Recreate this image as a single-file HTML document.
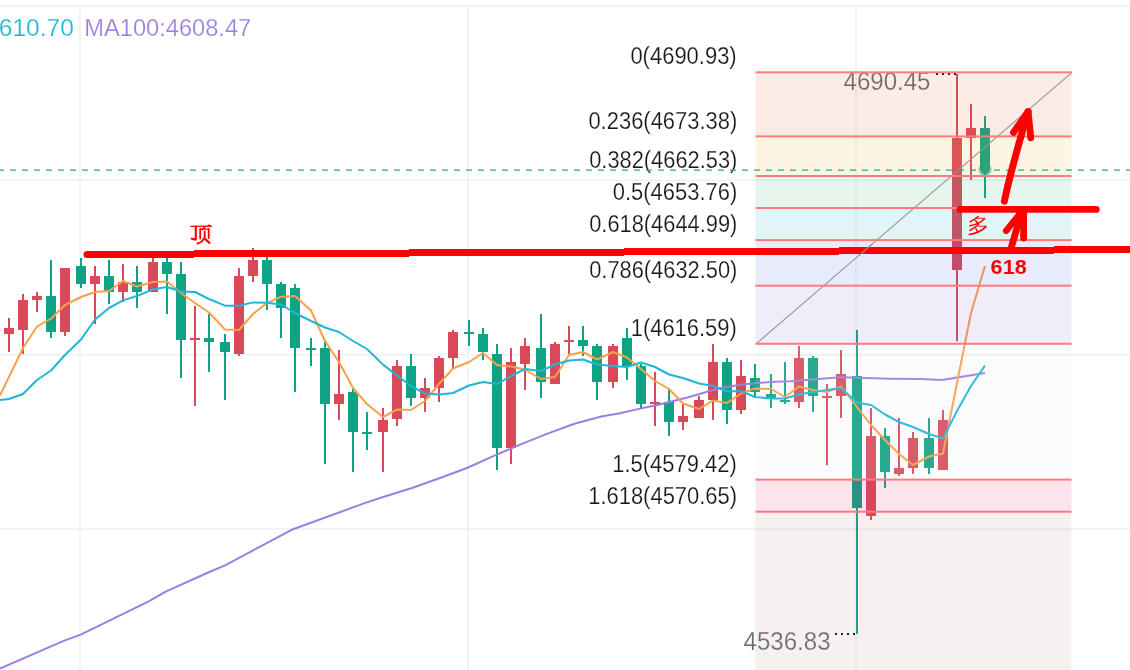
<!DOCTYPE html><html><head><meta charset="utf-8"><style>html,body{margin:0;padding:0;background:#fff;overflow:hidden;width:1130px;height:670px}svg{display:block;will-change:transform}</style></head><body>
<svg width="1130" height="670" viewBox="0 0 1130 670">
<rect x="0" y="5.25" width="1130" height="1.5" fill="#eef0f4"/>
<rect x="0" y="179.55" width="1130" height="1.5" fill="#eef0f4"/>
<rect x="0" y="353.95" width="1130" height="1.5" fill="#eef0f4"/>
<rect x="0" y="528.25" width="1130" height="1.5" fill="#eef0f4"/>
<rect x="79.25" y="6" width="1.5" height="664" fill="#eef0f4"/>
<rect x="467.25" y="6" width="1.5" height="664" fill="#eef0f4"/>
<rect x="855.25" y="6" width="1.5" height="664" fill="#eef0f4"/>
<rect x="8.0" y="318" width="2" height="34" fill="#d84a5a"/>
<rect x="4.0" y="328" width="10" height="6" fill="#d84a5a"/>
<rect x="22.0" y="294" width="2" height="60" fill="#d84a5a"/>
<rect x="18.0" y="300" width="10" height="30" fill="#d84a5a"/>
<rect x="36.0" y="292" width="2" height="20" fill="#d84a5a"/>
<rect x="32.0" y="296" width="10" height="4" fill="#d84a5a"/>
<rect x="50.0" y="260" width="2" height="78" fill="#0fa386"/>
<rect x="46.0" y="296" width="10" height="36" fill="#0fa386"/>
<rect x="64.0" y="268" width="2" height="68" fill="#d84a5a"/>
<rect x="60.0" y="268" width="10" height="64" fill="#d84a5a"/>
<rect x="80.0" y="258" width="2" height="30" fill="#0fa386"/>
<rect x="76.0" y="266" width="10" height="18" fill="#0fa386"/>
<rect x="94.0" y="266" width="2" height="58" fill="#d84a5a"/>
<rect x="90.0" y="276" width="10" height="8" fill="#d84a5a"/>
<rect x="108.0" y="260" width="2" height="44" fill="#0fa386"/>
<rect x="104.0" y="276" width="10" height="16" fill="#0fa386"/>
<rect x="122.0" y="264" width="2" height="38" fill="#d84a5a"/>
<rect x="118.0" y="282" width="10" height="10" fill="#d84a5a"/>
<rect x="136.0" y="266" width="2" height="42" fill="#0fa386"/>
<rect x="132.0" y="282" width="10" height="10" fill="#0fa386"/>
<rect x="152.0" y="257" width="2" height="35" fill="#d84a5a"/>
<rect x="148.0" y="262" width="10" height="30" fill="#d84a5a"/>
<rect x="166.0" y="257" width="2" height="57" fill="#0fa386"/>
<rect x="162.0" y="262" width="10" height="12" fill="#0fa386"/>
<rect x="180.0" y="262" width="2" height="116" fill="#0fa386"/>
<rect x="176.0" y="274" width="10" height="66" fill="#0fa386"/>
<rect x="194.0" y="306" width="2" height="100" fill="#d84a5a"/>
<rect x="190.0" y="338" width="10" height="2" fill="#d84a5a"/>
<rect x="208.0" y="314" width="2" height="58" fill="#0fa386"/>
<rect x="204.0" y="338" width="10" height="4" fill="#0fa386"/>
<rect x="224.0" y="334" width="2" height="66" fill="#0fa386"/>
<rect x="220.0" y="342" width="10" height="10" fill="#0fa386"/>
<rect x="238.0" y="268" width="2" height="88" fill="#d84a5a"/>
<rect x="234.0" y="276" width="10" height="78" fill="#d84a5a"/>
<rect x="252.0" y="248" width="2" height="34" fill="#d84a5a"/>
<rect x="248.0" y="260" width="10" height="16" fill="#d84a5a"/>
<rect x="266.0" y="257" width="2" height="53" fill="#0fa386"/>
<rect x="262.0" y="260" width="10" height="24" fill="#0fa386"/>
<rect x="280.0" y="282" width="2" height="56" fill="#0fa386"/>
<rect x="276.0" y="284" width="10" height="24" fill="#0fa386"/>
<rect x="294.0" y="284" width="2" height="108" fill="#0fa386"/>
<rect x="290.0" y="288" width="10" height="60" fill="#0fa386"/>
<rect x="310.0" y="338" width="2" height="28" fill="#0fa386"/>
<rect x="306.0" y="348" width="10" height="2" fill="#0fa386"/>
<rect x="324.0" y="340" width="2" height="124" fill="#0fa386"/>
<rect x="320.0" y="348" width="10" height="56" fill="#0fa386"/>
<rect x="338.0" y="350" width="2" height="70" fill="#d84a5a"/>
<rect x="334.0" y="394" width="10" height="10" fill="#d84a5a"/>
<rect x="352.0" y="388" width="2" height="84" fill="#0fa386"/>
<rect x="348.0" y="392" width="10" height="40" fill="#0fa386"/>
<rect x="366.0" y="412" width="2" height="38" fill="#0fa386"/>
<rect x="362.0" y="432" width="10" height="2" fill="#0fa386"/>
<rect x="382.0" y="408" width="2" height="64" fill="#d84a5a"/>
<rect x="378.0" y="420" width="10" height="12" fill="#d84a5a"/>
<rect x="396.0" y="360" width="2" height="66" fill="#d84a5a"/>
<rect x="392.0" y="366" width="10" height="53" fill="#d84a5a"/>
<rect x="410.0" y="354" width="2" height="52" fill="#0fa386"/>
<rect x="406.0" y="366" width="10" height="32" fill="#0fa386"/>
<rect x="424.0" y="378" width="2" height="34" fill="#d84a5a"/>
<rect x="420.0" y="388" width="10" height="10" fill="#d84a5a"/>
<rect x="438.0" y="356" width="2" height="46" fill="#d84a5a"/>
<rect x="434.0" y="358" width="10" height="30" fill="#d84a5a"/>
<rect x="452.0" y="330" width="2" height="39" fill="#d84a5a"/>
<rect x="448.0" y="332" width="10" height="26" fill="#d84a5a"/>
<rect x="468.0" y="320" width="2" height="26" fill="#0fa386"/>
<rect x="464.0" y="332" width="10" height="2" fill="#0fa386"/>
<rect x="482.0" y="328" width="2" height="32" fill="#0fa386"/>
<rect x="478.0" y="334" width="10" height="18" fill="#0fa386"/>
<rect x="496.0" y="344" width="2" height="126" fill="#0fa386"/>
<rect x="492.0" y="354" width="10" height="94" fill="#0fa386"/>
<rect x="510.0" y="348" width="2" height="116" fill="#d84a5a"/>
<rect x="506.0" y="362" width="10" height="86" fill="#d84a5a"/>
<rect x="524.0" y="338" width="2" height="52" fill="#d84a5a"/>
<rect x="520.0" y="346" width="10" height="18" fill="#d84a5a"/>
<rect x="540.0" y="314" width="2" height="84" fill="#0fa386"/>
<rect x="536.0" y="348" width="10" height="34" fill="#0fa386"/>
<rect x="554.0" y="342" width="2" height="42" fill="#d84a5a"/>
<rect x="550.0" y="344" width="10" height="40" fill="#d84a5a"/>
<rect x="568.0" y="326" width="2" height="28" fill="#d84a5a"/>
<rect x="564.0" y="340" width="10" height="2" fill="#d84a5a"/>
<rect x="582.0" y="326" width="2" height="30" fill="#0fa386"/>
<rect x="578.0" y="340" width="10" height="6" fill="#0fa386"/>
<rect x="596.0" y="344" width="2" height="56" fill="#0fa386"/>
<rect x="592.0" y="346" width="10" height="36" fill="#0fa386"/>
<rect x="612.0" y="344" width="2" height="44" fill="#d84a5a"/>
<rect x="608.0" y="346" width="10" height="36" fill="#d84a5a"/>
<rect x="626.0" y="328" width="2" height="52" fill="#0fa386"/>
<rect x="622.0" y="338" width="10" height="28" fill="#0fa386"/>
<rect x="640.0" y="364" width="2" height="44" fill="#0fa386"/>
<rect x="636.0" y="366" width="10" height="38" fill="#0fa386"/>
<rect x="654.0" y="372" width="2" height="54" fill="#d84a5a"/>
<rect x="650.0" y="402" width="10" height="2" fill="#d84a5a"/>
<rect x="668.0" y="388" width="2" height="48" fill="#0fa386"/>
<rect x="664.0" y="402" width="10" height="20" fill="#0fa386"/>
<rect x="682.0" y="404" width="2" height="26" fill="#d84a5a"/>
<rect x="678.0" y="416" width="10" height="6" fill="#d84a5a"/>
<rect x="698.0" y="396" width="2" height="22" fill="#d84a5a"/>
<rect x="694.0" y="400" width="10" height="18" fill="#d84a5a"/>
<rect x="712.0" y="344" width="2" height="76" fill="#d84a5a"/>
<rect x="708.0" y="362" width="10" height="38" fill="#d84a5a"/>
<rect x="726.0" y="358" width="2" height="66" fill="#0fa386"/>
<rect x="722.0" y="362" width="10" height="48" fill="#0fa386"/>
<rect x="740.0" y="360" width="2" height="54" fill="#d84a5a"/>
<rect x="736.0" y="376" width="10" height="34" fill="#d84a5a"/>
<rect x="754.0" y="364" width="2" height="34" fill="#0fa386"/>
<rect x="750.0" y="378" width="10" height="14" fill="#0fa386"/>
<rect x="770.0" y="374" width="2" height="34" fill="#0fa386"/>
<rect x="766.0" y="394" width="10" height="5" fill="#0fa386"/>
<rect x="784.0" y="362" width="2" height="42" fill="#0fa386"/>
<rect x="780.0" y="400" width="10" height="2" fill="#0fa386"/>
<rect x="798.0" y="346" width="2" height="62" fill="#d84a5a"/>
<rect x="794.0" y="358" width="10" height="44" fill="#d84a5a"/>
<rect x="812.0" y="356" width="2" height="56" fill="#0fa386"/>
<rect x="808.0" y="358" width="10" height="38" fill="#0fa386"/>
<rect x="826.0" y="384" width="2" height="81" fill="#d84a5a"/>
<rect x="822.0" y="396" width="10" height="2" fill="#d84a5a"/>
<rect x="840.0" y="350" width="2" height="68" fill="#d84a5a"/>
<rect x="836.0" y="374" width="10" height="22" fill="#d84a5a"/>
<rect x="856.0" y="330" width="2" height="304" fill="#0fa386"/>
<rect x="852.0" y="376" width="10" height="132" fill="#0fa386"/>
<rect x="870.0" y="408" width="2" height="112" fill="#d84a5a"/>
<rect x="866.0" y="436" width="10" height="80" fill="#d84a5a"/>
<rect x="884.0" y="428" width="2" height="60" fill="#0fa386"/>
<rect x="880.0" y="436" width="10" height="36" fill="#0fa386"/>
<rect x="898.0" y="418" width="2" height="58" fill="#d84a5a"/>
<rect x="894.0" y="468" width="10" height="6" fill="#d84a5a"/>
<rect x="912.0" y="432" width="2" height="42" fill="#d84a5a"/>
<rect x="908.0" y="438" width="10" height="30" fill="#d84a5a"/>
<rect x="928.0" y="418" width="2" height="56" fill="#0fa386"/>
<rect x="924.0" y="438" width="10" height="30" fill="#0fa386"/>
<rect x="942.0" y="410" width="2" height="60" fill="#d84a5a"/>
<rect x="938.0" y="420" width="10" height="50" fill="#d84a5a"/>
<rect x="956.0" y="74" width="2" height="267" fill="#d84a5a"/>
<rect x="952.0" y="138" width="10" height="132" fill="#d84a5a"/>
<rect x="970.0" y="104" width="2" height="76" fill="#d84a5a"/>
<rect x="966.0" y="128" width="10" height="10" fill="#d84a5a"/>
<rect x="984.0" y="116" width="2" height="82" fill="#0fa386"/>
<rect x="980.0" y="128" width="10" height="42" fill="#0fa386"/>
<defs><radialGradient id="dg"><stop offset="0" stop-color="#0fa386" stop-opacity="1"/><stop offset="0.5" stop-color="#0fa386" stop-opacity="0.95"/><stop offset="1" stop-color="#0fa386" stop-opacity="0"/></radialGradient></defs>
<circle cx="985" cy="169.6" r="7.5" fill="url(#dg)"/>
<polyline points="0,668.5 63.7,640.9 80.7,634.6 148.7,601.4 165.7,591.7 208.2,572.5 225.1,565.3 293.1,529.2 365.3,502.9 382.3,497.3 412,488 440,478 466.9,468 493.8,455.9 520.6,444.4 547.5,433.6 574.4,423.7 601.3,416.5 620,413.2 640,408.6 656.4,405.2 688.3,397.2 717.5,388.7 741.4,384.4 770,382 790,381.2 840.7,377.2 890,378.7 920,379 942,380 985,373" fill="none" stroke="#9b7fe0" stroke-width="2" stroke-linejoin="round"/>
<polyline points="0,395.4 9,377 23,348 37,326.5 51,318.7 65,305 81,297 95,292 109,291 123,281 137,286.5 153,282 167,281.5 181,293 195,303 209,312.5 225,329.5 239,330 253,314 267,303 281,296.7 295,296 311,310.5 325,341 339,362 353,388 367,404 383,417 397,409.5 411,410 425,401 439,384 453,368.5 469,362 483,353 497,365 511,366.5 525,369.5 541,379 555,377 569,355 583,352 597,359.5 613,352 627,357.5 641,369 655,381 669,389 683,403.5 699,409 713,400.5 727,403 741,393.5 755,388.5 771,389 785,397 799,386.5 813,390 827,392 841,386.5 857,407 871,425 885,440 899,454 913,465 929,456.5 943,453.5 957,383 971,313 985,266" fill="none" stroke="#f9a04a" stroke-width="2" stroke-linejoin="round"/>
<polyline points="0,400 9,399 23,394 37,380 51,370.5 65,355 81,339.5 95,319.5 109,308 123,300.4 137,296 153,289.3 167,287 181,291.5 195,292 209,299 225,305.7 239,305.7 253,302.4 267,302.7 281,304.5 295,313 311,321 325,327.5 339,332 353,341 367,349 383,364.6 397,375.5 411,386 425,393.5 439,394.5 453,393 469,385.5 483,382 497,384 511,376 525,369 541,371 555,364.5 569,360.5 583,359.5 597,364.5 613,366 627,367 641,362.5 655,367 669,374.5 683,378 699,383.5 713,386 727,391.5 741,391 755,397 771,398.5 785,398.5 799,394.5 813,392 827,390 841,388 857,402.5 871,405 885,414.5 899,422 913,427 929,434 943,438.5 957,411 971,386 985,365.5" fill="none" stroke="#1db7da" stroke-width="2" stroke-linejoin="round"/>
<text x="843.56" y="89.9" font-family="Liberation Sans, sans-serif" font-size="25.0" font-weight="normal" textLength="86.89" lengthAdjust="spacingAndGlyphs" fill="#646977" stroke="#fff" stroke-width="0.25" stroke-opacity="0.8">4690.45</text>
<text x="743.56" y="649.8" font-family="Liberation Sans, sans-serif" font-size="25.0" font-weight="normal" textLength="86.97" lengthAdjust="spacingAndGlyphs" fill="#646977" stroke="#fff" stroke-width="0.25" stroke-opacity="0.8">4536.83</text>
<rect x="936" y="73" width="2" height="2" fill="#111"/>
<rect x="942" y="73" width="2" height="2" fill="#111"/>
<rect x="948" y="73" width="2" height="2" fill="#111"/>
<rect x="954" y="73" width="2" height="2" fill="#111"/>
<rect x="835" y="633" width="2" height="2" fill="#111"/>
<rect x="841" y="633" width="2" height="2" fill="#111"/>
<rect x="847" y="633" width="2" height="2" fill="#111"/>
<rect x="853" y="633" width="2" height="2" fill="#111"/>
<rect x="755.5" y="72.3" width="316.0" height="64.10000000000001" fill="rgb(238,88,47)" fill-opacity="0.12"/>
<rect x="755.5" y="136.4" width="316.0" height="39.599999999999994" fill="rgb(238,163,30)" fill-opacity="0.12"/>
<rect x="755.5" y="176.0" width="316.0" height="32.0" fill="rgb(47,180,113)" fill-opacity="0.12"/>
<rect x="755.5" y="208.0" width="316.0" height="32.099999999999994" fill="rgb(5,172,188)" fill-opacity="0.12"/>
<rect x="755.5" y="240.1" width="316.0" height="45.599999999999994" fill="rgb(55,88,222)" fill-opacity="0.12"/>
<rect x="755.5" y="285.7" width="316.0" height="58.10000000000002" fill="rgb(130,97,213)" fill-opacity="0.12"/>
<rect x="755.5" y="343.8" width="316.0" height="135.8" fill="rgb(222,222,222)" fill-opacity="0.12"/>
<rect x="755.5" y="479.6" width="316.0" height="32.099999999999966" fill="rgb(230,30,97)" fill-opacity="0.12"/>
<rect x="755.5" y="511.7" width="316.0" height="158.3" fill="rgb(180,130,130)" fill-opacity="0.12"/>
<line x1="756.1" y1="343.8" x2="1072.1" y2="72.3" stroke="#969696" stroke-width="1.05"/>
<rect x="755.5" y="71.3" width="316.0" height="2" fill="#ff7b7b"/>
<rect x="755.5" y="135.4" width="316.0" height="2" fill="#ff7b7b"/>
<rect x="755.5" y="175.0" width="316.0" height="2" fill="#ff7b7b"/>
<rect x="755.5" y="207.0" width="316.0" height="2" fill="#ff7b7b"/>
<rect x="755.5" y="239.1" width="316.0" height="2" fill="#ff7b7b"/>
<rect x="755.5" y="284.7" width="316.0" height="2" fill="#ff7b7b"/>
<rect x="755.5" y="342.8" width="316.0" height="2" fill="#ff7b7b"/>
<rect x="755.5" y="478.6" width="316.0" height="2" fill="#ff7b7b"/>
<rect x="755.5" y="510.7" width="316.0" height="2" fill="#ff7b7b"/>
<text x="-1.21" y="35.6" font-family="Liberation Sans, sans-serif" font-size="24.8" font-weight="normal" textLength="75.09" lengthAdjust="spacingAndGlyphs" fill="#1db7da" stroke="#fff" stroke-width="0.25" stroke-opacity="0.8">610.70</text>
<text x="84.27" y="35.6" font-family="Liberation Sans, sans-serif" font-size="24.8" font-weight="normal" textLength="166.94" lengthAdjust="spacingAndGlyphs" fill="#9b7fe0" stroke="#fff" stroke-width="0.25" stroke-opacity="0.8">MA100:4608.47</text>
<text x="630.41" y="64" font-family="Liberation Sans, sans-serif" font-size="23.0" font-weight="normal" textLength="106.26" lengthAdjust="spacingAndGlyphs" fill="#161619" stroke="#fff" stroke-width="0.25" stroke-opacity="0.8">0(4690.93)</text>
<text x="588.42" y="129" font-family="Liberation Sans, sans-serif" font-size="23.0" font-weight="normal" textLength="148.90" lengthAdjust="spacingAndGlyphs" fill="#161619" stroke="#fff" stroke-width="0.25" stroke-opacity="0.8">0.236(4673.38)</text>
<text x="589.20" y="168" font-family="Liberation Sans, sans-serif" font-size="23.0" font-weight="normal" textLength="148.15" lengthAdjust="spacingAndGlyphs" fill="#161619" stroke="#fff" stroke-width="0.25" stroke-opacity="0.8">0.382(4662.53)</text>
<text x="612.75" y="200" font-family="Liberation Sans, sans-serif" font-size="23.0" font-weight="normal" textLength="124.57" lengthAdjust="spacingAndGlyphs" fill="#161619" stroke="#fff" stroke-width="0.25" stroke-opacity="0.8">0.5(4653.76)</text>
<text x="589.20" y="232" font-family="Liberation Sans, sans-serif" font-size="23.0" font-weight="normal" textLength="148.15" lengthAdjust="spacingAndGlyphs" fill="#161619" stroke="#fff" stroke-width="0.25" stroke-opacity="0.8">0.618(4644.99)</text>
<text x="589.20" y="278" font-family="Liberation Sans, sans-serif" font-size="23.0" font-weight="normal" textLength="148.15" lengthAdjust="spacingAndGlyphs" fill="#161619" stroke="#fff" stroke-width="0.25" stroke-opacity="0.8">0.786(4632.50)</text>
<text x="630.72" y="336" font-family="Liberation Sans, sans-serif" font-size="23.0" font-weight="normal" textLength="105.99" lengthAdjust="spacingAndGlyphs" fill="#161619" stroke="#fff" stroke-width="0.25" stroke-opacity="0.8">1(4616.59)</text>
<text x="612.29" y="472" font-family="Liberation Sans, sans-serif" font-size="23.0" font-weight="normal" textLength="124.41" lengthAdjust="spacingAndGlyphs" fill="#161619" stroke="#fff" stroke-width="0.25" stroke-opacity="0.8">1.5(4579.42)</text>
<text x="588.19" y="504" font-family="Liberation Sans, sans-serif" font-size="23.0" font-weight="normal" textLength="148.91" lengthAdjust="spacingAndGlyphs" fill="#161619" stroke="#fff" stroke-width="0.25" stroke-opacity="0.8">1.618(4570.65)</text>
<line x1="-2" y1="170.1" x2="1130" y2="170.1" stroke="#2aa48e" stroke-width="1.4" stroke-dasharray="6 6"/>
<g stroke="#ff0000" fill="none">
<rect x="87" y="251" width="107" height="7" fill="#ff0000" stroke="none"/>
<rect x="194" y="250" width="215" height="7" fill="#ff0000" stroke="none"/>
<rect x="409" y="249" width="215" height="7" fill="#ff0000" stroke="none"/>
<rect x="624" y="248" width="215" height="7" fill="#ff0000" stroke="none"/>
<rect x="839" y="247" width="215" height="7" fill="#ff0000" stroke="none"/>
<rect x="1054" y="246" width="76" height="7" fill="#ff0000" stroke="none"/>
<circle cx="87" cy="254.5" r="3.5" fill="#ff0000" stroke="none"/>
<line x1="960" y1="209.4" x2="1096.3" y2="209.4" stroke-width="6.8" stroke-linecap="round"/>
<path d="M1004.4,201.1 Q1009.5,175.3 1028.1,111.5" stroke-width="7" stroke-linecap="round"/>
<path d="M1013.5,132.5 L1028.1,111.5 L1030.8,137.8" stroke-width="6.8" stroke-linejoin="round" stroke-linecap="round"/>
<path d="M1010.3,251 L1021,214" stroke-width="6.8" stroke-linecap="butt"/>
<path d="M1006.2,230.8 L1018.5,215.5" stroke-width="6.5" stroke-linecap="round"/>
<path d="M1023.6,213 L1023.6,238" stroke-width="6.8" stroke-linecap="round"/>
<polygon points="1016,212 1027,212 1027,226 1018,224" fill="#ff0000" stroke="none"/>
</g>
<line x1="756.1" y1="343.8" x2="1072.1" y2="72.3" stroke="#969696" stroke-width="1.05" clip-path="url(#dclip)"/>
<defs><clipPath id="dclip"><rect x="840" y="244" width="60" height="12"/></clipPath></defs>
<text x="990.62" y="273.7" font-family="Liberation Sans, sans-serif" font-size="20.5" font-weight="bold" textLength="36.08" lengthAdjust="spacingAndGlyphs" fill="#ff0000">618</text>
<g stroke="#ff0000" fill="none" stroke-linecap="round" stroke-linejoin="round">
<path d="M190.8,226.4 L210.3,226.1" stroke-width="1.3"/>
<path d="M208.5,225.6 L210.8,226.2" stroke-width="2"/>
<path d="M195.8,226.6 L195.8,239.6 L191.7,238.8" stroke-width="2.1"/>
<path d="M204.8,227 L202.6,229.5" stroke-width="1.8"/>
<path d="M200.2,229 L200.2,238.6" stroke-width="1.8"/>
<path d="M200.2,229.2 L208.7,229.2" stroke-width="1.2"/>
<path d="M208.7,229 L208.7,238.1" stroke-width="1.8"/>
<path d="M204.7,231.4 L204.7,237 Q203,241.8 197.5,243.5" stroke-width="1.9"/>
<path d="M205.3,239.2 L209.4,242.8" stroke-width="2.3"/>
</g>
<g stroke="#ff0000" fill="none" stroke-linecap="round" stroke-linejoin="round">
<path d="M978.2,216.5 Q974.5,219.6 970.2,221.7" stroke-width="1.6"/>
<path d="M975.6,218.4 L984.4,218.3" stroke-width="0.9"/>
<path d="M984.6,218.7 Q979.5,223.8 970,225.8" stroke-width="1.6"/>
<path d="M975.5,220.6 L978.5,224.2" stroke-width="1.5"/>
<path d="M978.6,224.5 Q974.5,228 970.1,230.3" stroke-width="1.6"/>
<path d="M978.5,226.2 L985.6,226.3" stroke-width="0.9"/>
<path d="M985.9,226.6 Q980.5,232.6 969.4,234.5" stroke-width="1.7"/>
<path d="M975.9,228.9 L978.2,232.3" stroke-width="1.5"/>
</g>
</svg></body></html>
